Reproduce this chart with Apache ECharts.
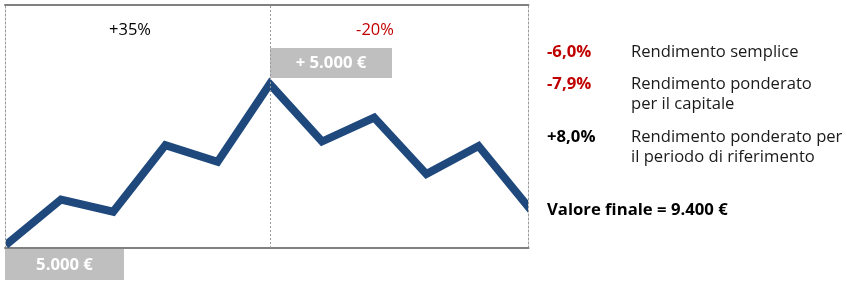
<!DOCTYPE html>
<html>
<head>
<meta charset="utf-8">
<script src="https://cdn.jsdelivr.net/npm/echarts@6/dist/echarts.min.js"></script>
<style>
html,body{margin:0;padding:0;background:#fff;}
#main{width:847px;height:285px;}
</style>
</head>
<body>
<div id="main"></div>
<script>
// ---- data ----
const periods = [0, 1, 2, 3, 4, 5, 6, 7, 8, 9, 10];
const indexValues = [100, 109.5, 106.8, 121.5, 117.8, 135, 122.3, 127.6, 115.1, 121.3, 107.2];
const depositPeriod = 5;
const phaseReturns = ['+35%', '-20%'];
const depositLabels = ['5.000 €', '+ 5.000 €'];
const returnValues = ['-6,0%', '-7,9%', '+8,0%'];
const returnNames = ['Rendimento semplice', 'Rendimento ponderato\nper il capitale', 'Rendimento ponderato per\nil periodo di riferimento'];
const finalLabel = 'Valore finale = 9.400 €';

const FONT = '"Open Sans", sans-serif';
const RED = '#C00000';
const GRAY = '#808080';
const LINE_W = 8;
const chart = echarts.init(document.getElementById('main'), null, {renderer: 'canvas'});

const seriesData = periods.map(function (p, i) { return [p, indexValues[i]]; });

chart.setOption({
  animation: false,
  backgroundColor: '#fff',
  grid: [
    // plot grid for the line (inset so the clip lands on the frame)
    {left: 10, right: 323, top: 9, bottom: 41, containLabel: false},
    // frame grid
    {left: 5, right: 318.5, top: 5, bottom: 37, containLabel: false}
  ],
  xAxis: [{
    gridIndex: 0, type: 'value', min: 0.023, max: 9.87,
    axisLine: {show: false}, axisTick: {show: false}, axisLabel: {show: false}, splitLine: {show: false}
  }, {
    gridIndex: 1, type: 'value', min: -0.0728, max: 9.956, position: 'bottom',
    axisLine: {show: true, onZero: false, lineStyle: {color: GRAY, width: 2}},
    axisTick: {show: false}, axisLabel: {show: false}, splitLine: {show: false}
  }, {
    gridIndex: 1, type: 'value', min: -0.0728, max: 9.956, position: 'top',
    axisLine: {show: true, onZero: false, lineStyle: {color: GRAY, width: 2}},
    axisTick: {show: false}, axisLabel: {show: false}, splitLine: {show: false}
  }],
  yAxis: [{
    gridIndex: 0, type: 'value', min: 99.67, max: 151.56,
    axisLine: {show: false}, axisTick: {show: false}, axisLabel: {show: false}, splitLine: {show: false}
  }, {
    gridIndex: 1, type: 'value', min: 0, max: 1, position: 'left',
    axisLine: {show: true, onZero: false, lineStyle: {color: '#9a9a9a', width: 1, type: [2, 2]}},
    axisTick: {show: false}, axisLabel: {show: false}, splitLine: {show: false}
  }, {
    gridIndex: 1, type: 'value', min: 0, max: 1, position: 'right',
    axisLine: {show: true, onZero: false, lineStyle: {color: '#9a9a9a', width: 1, type: [2, 2]}},
    axisTick: {show: false}, axisLabel: {show: false}, splitLine: {show: false}
  }],
  series: [{
    type: 'line', data: seriesData, xAxisIndex: 0, yAxisIndex: 0,
    symbol: 'none', clip: true, z: 3,
    lineStyle: {color: '#1F497D', width: LINE_W, join: 'miter', cap: 'square'}
  }, {
    type: 'line', data: [], xAxisIndex: 1, yAxisIndex: 1, symbol: 'none', z: 1,
    markLine: {
      silent: true, symbol: ['none', 'none'], label: {show: false},
      lineStyle: {color: '#9a9a9a', width: 1, type: [2, 2]},
      data: [{xAxis: depositPeriod}]
    }
  }]
});

const p0 = chart.convertToPixel({xAxisIndex: 1, yAxisIndex: 1}, [-0.0728, 0]);
const p5 = chart.convertToPixel({xAxisIndex: 0, yAxisIndex: 0}, [depositPeriod, indexValues[depositPeriod]]);

function box(x, y, w, h, text) {
  return {
    type: 'group', x: x, y: y, z: 10, children: [
      {type: 'rect', shape: {x: 0, y: 0, width: w, height: h}, style: {fill: '#BFBFBF'}},
      {type: 'text', x: w / 2, y: h / 2 + 0.5, style: {text: text, fill: '#fff', font: 'bold 16.7px ' + FONT, align: 'center', verticalAlign: 'middle'}}
    ]
  };
}

const graphics = [
  box(Math.round(p0[0]), Math.round(p0[1]) + 1, 119, 31, depositLabels[0]),
  box(Math.round(p5[0]), 48, 122, 30, depositLabels[1]),
  {type: 'text', x: 130, y: 30, style: {text: phaseReturns[0], fill: '#000', font: '16.5px ' + FONT, align: 'center', verticalAlign: 'middle'}},
  {type: 'text', x: 375, y: 30, style: {text: phaseReturns[1], fill: RED, font: '16.5px ' + FONT, align: 'center', verticalAlign: 'middle'}}
];

const rowY = [52, 84, 137];
returnValues.forEach(function (v, i) {
  graphics.push({type: 'text', x: 547, y: rowY[i], style: {text: v, fill: v.charAt(0) === '-' ? RED : '#000', font: 'bold 16.7px ' + FONT, verticalAlign: 'middle'}});
  const lines = returnNames[i].split('\n');
  lines.forEach(function (t, j) {
    graphics.push({type: 'text', x: 631, y: rowY[i] + j * 20, style: {text: t, fill: '#1a1a1a', font: '16.6px ' + FONT, verticalAlign: 'middle'}});
  });
});
graphics.push({type: 'text', x: 547, y: 210, style: {text: finalLabel, fill: '#000', font: 'bold 16.7px ' + FONT, verticalAlign: 'middle'}});

chart.setOption({graphic: graphics});
</script>
</body>
</html>
